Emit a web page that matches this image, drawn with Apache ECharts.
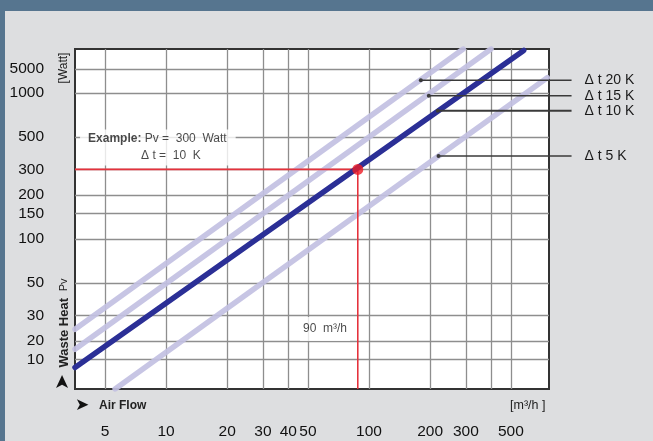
<!DOCTYPE html>
<html><head><meta charset="utf-8">
<script src="https://cdn.jsdelivr.net/npm/echarts@6/dist/echarts.min.js"></script>
<style>html,body{margin:0;padding:0;background:#dddee0}#c{width:653px;height:441px}</style>
</head><body><div id="c"></div>
<script>
const FONT = "'Liberation Sans','Arial',sans-serif";

// Axis ranges (air flow m³/h, waste heat W) on log scales
const xRange = [3.56, 770];
const xRangeLeaders = [3.56, 1000];   // same scale, extended to the right for the leader lines
const yRange = [9.4, 2004];
const xTickValues = [5, 10, 20, 30, 40, 50, 100, 200, 300, 500];
const xGridValues = [5, 10, 20, 30, 40, 50, 100, 200, 300, 400, 500];
const yTickValues = [15, 20, 30, 50, 100, 150, 200, 300, 500, 1000, 1462];
const yTickLabels = ['10', '20', '30', '50', '100', '150', '200', '300', '500', '1000', '5000'];

// Characteristic lines: [air flow m³/h, waste heat W]
const line20K = [[3.56, 24.1], [291, 2004]];
const line15K = [[3.56, 17.6], [399, 2004]];
const line10K = [[3.56, 13.2], [578, 1960]];
const line5K = [[5.61, 9.4], [755, 1275]];

// Leader anchors on the lines and their labels
const leaderNames = ['Δ t 20 K', 'Δ t 15 K', 'Δ t 10 K', 'Δ t 5 K'];
const leaderAnchors = [[180, 1224], [197, 959], [218, 758], [220, 371]];
const leaderEndX = 995;

// Worked example
const examplePoint = [88, 300];
const examplePath = [[3.56, 300], [88, 300], [88, 9.4]];
const exampleTextAnchor = [3.77, 424];
const flowTextAnchor = [60.7, 24.2];

const chart = echarts.init(document.getElementById('c'), null, {renderer: 'canvas'});

function charLine(name, data, color, width, opacity, z) {
  return {
    name, type: 'line', data, symbol: 'none', clip: true, z, silent: true,
    lineStyle: {color, width, opacity, cap: 'round'}
  };
}

function leader(idx, width) {
  const a = leaderAnchors[idx];
  return {
    name: leaderNames[idx], type: 'line', xAxisIndex: 1, yAxisIndex: 1, z: 8, silent: true,
    symbol: 'circle', showSymbol: true, showAllSymbol: true,
    data: [{value: a, symbol: 'circle', symbolSize: 4}, {value: [leaderEndX, a[1]], symbol: 'none'}],
    itemStyle: {color: '#3a3a3a'},
    lineStyle: {color: '#3a3a3a', width},
    endLabel: {show: true, formatter: leaderNames[idx], distance: 13,
               color: '#1a1a1a', fontSize: 14, fontFamily: FONT}
  };
}

const LAV = '#c2c0e2';
const option = {
  animation: false,
  backgroundColor: '#dddee0',
  grid: [
    {left: 75, top: 49, width: 474, height: 340, show: true,
     backgroundColor: '#ffffff', borderColor: '#333333', borderWidth: 2},
    {left: 75, top: 49, width: 497, height: 340, show: false}
  ],
  xAxis: [{
    type: 'log', logBase: 10, min: xRange[0], max: xRange[1],
    axisLine: {show: false},
    axisTick: {show: false, customValues: xGridValues},
    splitLine: {show: true, lineStyle: {color: '#8e8e8e', width: 1.3}},
    axisLabel: {customValues: xTickValues, margin: 35, fontSize: 15.5, color: '#111',
                fontFamily: FONT, formatter: v => String(Math.round(v))}
  }, {
    gridIndex: 1, type: 'log', logBase: 10, min: xRangeLeaders[0], max: xRangeLeaders[1], show: false
  }],
  yAxis: [{
    type: 'log', logBase: 10, min: yRange[0], max: yRange[1],
    axisLine: {show: false},
    axisTick: {show: false, customValues: yTickValues},
    splitLine: {show: true, lineStyle: {color: '#8e8e8e', width: 1.3}},
    axisLabel: {customValues: yTickValues, margin: 31, fontSize: 15.5, color: '#111',
                fontFamily: FONT,
                formatter: v => {
                  const i = yTickValues.findIndex(t => Math.abs(Math.log10(t) - Math.log10(v)) < 1e-4);
                  return i >= 0 ? yTickLabels[i] : '';
                }}
  }, {
    gridIndex: 1, type: 'log', logBase: 10, min: yRange[0], max: yRange[1], show: false
  }],
  series: [
    charLine('Δt 20 K', line20K, LAV, 5.5, 0.92, 2),
    charLine('Δt 15 K', line15K, LAV, 5.5, 0.92, 2),
    charLine('Δt 5 K', line5K, LAV, 5.5, 0.92, 2),
    {
      name: 'example', type: 'line', data: examplePath, symbol: 'none', z: 3, silent: true,
      lineStyle: {color: '#e5323c', width: 1.6}
    },
    charLine('Δt 10 K', line10K, '#2b2f96', 5.5, 1, 4),
    leader(0, 1.4), leader(1, 1.4), leader(2, 2), leader(3, 1.4),
    {
      name: 'example point', type: 'scatter', data: [examplePoint], symbolSize: 11, z: 6,
      itemStyle: {color: '#ee1c25'}, silent: true
    },
    {
      name: 'example text', type: 'scatter', data: [exampleTextAnchor], symbolSize: 0, z: 7, silent: true,
      label: {
        show: true, position: 'right', distance: 0, backgroundColor: '#ffffff',
        padding: [1, 9, 1, 8], align: 'left', lineHeight: 17,
        formatter: '{b|Example:} {n|Pv =  300  Watt}\n{sp| }{n|Δ t =  10  K}',
        rich: {
          b: {fontWeight: 'bold', fontSize: 12, color: '#1a1a1a', fontFamily: FONT, lineHeight: 17},
          n: {fontSize: 12, color: '#1a1a1a', fontFamily: FONT, lineHeight: 17},
          sp: {width: 53, fontSize: 12, lineHeight: 17}
        }
      }
    },
    {
      name: 'flow text', type: 'scatter', data: [flowTextAnchor], symbolSize: 0, z: 7, silent: true,
      label: {
        show: true, position: 'inside', backgroundColor: '#ffffff', padding: [6, 3],
        formatter: '90  m³/h', fontSize: 12, color: '#1a1a1a', fontFamily: FONT
      }
    }
  ],
  graphic: [
    {type: 'rect', x: 0, y: 0, shape: {width: 653, height: 11}, style: {fill: '#56758f'}, silent: true},
    {type: 'rect', x: 0, y: 0, shape: {width: 5, height: 441}, style: {fill: '#56758f'}, silent: true},
    {type: 'text', x: 64, y: 68, rotation: Math.PI / 2, silent: true,
     style: {text: '[Watt]', fontSize: 12, fill: '#222', fontFamily: FONT, align: 'center', verticalAlign: 'middle'}},
    {type: 'text', x: 64, y: 323, rotation: Math.PI / 2, silent: true,
     style: {text: '{b|Waste Heat}  {n|Pv}', align: 'center', verticalAlign: 'middle',
             rich: {b: {fontSize: 13, fontWeight: 'bold', fill: '#222', fontFamily: FONT},
                    n: {fontSize: 11, fill: '#222', fontFamily: FONT}}}},
    {type: 'text', x: 63, y: 382, rotation: Math.PI / 2, silent: true,
     style: {text: '➤', fontSize: 19, fill: '#111', fontFamily: 'DejaVu Sans', align: 'center', verticalAlign: 'middle'}},
    {type: 'text', x: 82, y: 406, silent: true,
     style: {text: '➤', fontSize: 17, fill: '#111', fontFamily: 'DejaVu Sans', align: 'center', verticalAlign: 'middle'}},
    {type: 'text', x: 99, y: 406, silent: true,
     style: {text: 'Air Flow', fontSize: 12, fontWeight: 'bold', fill: '#222', fontFamily: FONT, align: 'left', verticalAlign: 'middle'}},
    {type: 'text', x: 510, y: 406, silent: true,
     style: {text: '[m³/h ]', fontSize: 12.5, fill: '#222', fontFamily: FONT, align: 'left', verticalAlign: 'middle'}}
  ]
};
chart.setOption(option);
</script>
</body></html>
